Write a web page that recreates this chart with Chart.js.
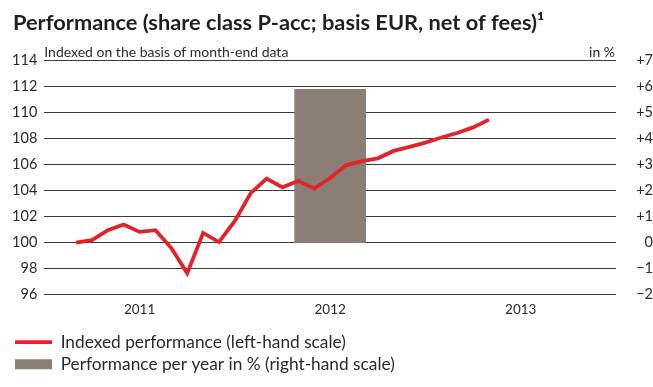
<!DOCTYPE html>
<html>
<head>
<meta charset="utf-8">
<script src="https://cdn.jsdelivr.net/npm/chart.js@4/dist/chart.umd.min.js"></script>
<style>
  html, body { margin: 0; padding: 0; background: #ffffff; }
  #wrap { width: 653px; height: 387px; position: relative; }
</style>
</head>
<body>
<div id="wrap"><canvas id="c" width="653" height="387"></canvas></div>
<script>
// ---- data ----
const titleText = 'Performance (share class P-acc; basis EUR, net of fees)\u00B9';
const subtitleText = 'Indexed on the basis of month-end data';
const rightUnitText = 'in %';

const months = [
  'Feb 2011','Mar 2011','Apr 2011','May 2011','Jun 2011','Jul 2011','Aug 2011','Sep 2011','Oct 2011','Nov 2011','Dec 2011',
  'Jan 2012','Feb 2012','Mar 2012','Apr 2012','May 2012','Jun 2012','Jul 2012','Aug 2012','Sep 2012','Oct 2012','Nov 2012','Dec 2012',
  'Jan 2013','Feb 2013','Mar 2013','Apr 2013'
];
const indexedPerformance = [
  100.0, 100.19, 100.96, 101.40, 100.83, 100.96, 99.59, 97.64, 100.75, 100.05, 101.67,
  103.81, 104.93, 104.26, 104.76, 104.16, 104.98, 105.95, 106.28, 106.49, 107.06, 107.37,
  107.70, 108.09, 108.44, 108.87, 109.47
];

const years = ['2011', '2012', '2013'];
const yearMidMonths = ['Jun 2011', 'Jun 2012', 'Jun 2013'];
const axisStartMonth = 'Dec 2010';
const axisEndMonth = 'Dec 2013';

const perfYears = ['2012'];
const perfPerYear = [5.9];

const leftTicks = { min: 96, max: 114, step: 2 };
const rightTicks = { min: -2, max: 7, step: 1 };

// ---- helpers ----
const MON = ['Jan','Feb','Mar','Apr','May','Jun','Jul','Aug','Sep','Oct','Nov','Dec'];
function monthIdx(label) {
  const [m, y] = label.split(' ');
  const base = months[0].split(' ');
  return (parseInt(y) - parseInt(base[1])) * 12 + MON.indexOf(m) - MON.indexOf(base[0]);
}
const lineData = indexedPerformance.map((v, i) => ({ x: monthIdx(months[i]), y: v }));
const yearTickValues = yearMidMonths.map(monthIdx);
const barData = perfYears.map((yr, i) => ({ x: yearTickValues[years.indexOf(yr)], y: perfPerYear[i] }));

const TXT = '#2b2b2b';
const TICK_FONT = 'Lato';

const headerPlugin = {
  id: 'header',
  afterDraw(chart) {
    const ctx = chart.ctx;
    const a = chart.chartArea;
    ctx.save();
    ctx.fillStyle = '#1f1f1f';
    ctx.textBaseline = 'alphabetic';
    ctx.textAlign = 'left';
    ctx.font = 'bold 21.8px Lato';
    ctx.fillText(titleText, 13, 30);
    ctx.fillStyle = TXT;
    ctx.font = '14px Lato';
    ctx.fillText(subtitleText, a.left, 57);
    ctx.textAlign = 'right';
    ctx.fillText(rightUnitText, a.right - 1, 57);
    ctx.restore();
  }
};

new Chart(document.getElementById('c'), {
  type: 'line',
  data: {
    datasets: [
      {
        type: 'line',
        label: 'Indexed performance (left-hand scale)',
        data: lineData,
        yAxisID: 'y',
        borderColor: '#e3232c',
        backgroundColor: '#e3232c',
        borderWidth: 3.8,
        pointRadius: 0,
        pointStyle: 'line',
        tension: 0,
        order: 0
      },
      {
        type: 'bar',
        label: 'Performance per year in % (right-hand scale)',
        data: barData,
        yAxisID: 'y2',
        backgroundColor: '#8b7f75',
        borderWidth: 0,
        barThickness: 71,
        pointStyle: 'rect',
        order: 1
      }
    ]
  },
  options: {
    responsive: false,
    animation: false,
    layout: { padding: { left: 10, right: 0, top: 60.7, bottom: 4 } },
    plugins: {
      title: { display: false },
      tooltip: { enabled: false },
      legend: {
        display: true,
        position: 'bottom',
        align: 'start',
        maxHeight: 61,
        labels: {
          usePointStyle: true,
          pointStyleWidth: 37,
          boxHeight: 10,
          padding: 5,
          color: TXT,
          font: { family: 'Lato', size: 17.3 }
        }
      }
    },
    scales: {
      x: {
        type: 'linear',
        min: monthIdx(axisStartMonth),
        max: monthIdx(axisEndMonth),
        offset: false,
        grid: { display: false, drawTicks: false },
        border: { display: false },
        afterBuildTicks: (scale) => { scale.ticks = yearTickValues.map(v => ({ value: v })); },
        afterFit: (scale) => { scale.height = 33.7; },
        ticks: {
          autoSkip: false,
          maxRotation: 0,
          padding: 7,
          color: TXT,
          font: { family: TICK_FONT, size: 13.5 },
          callback: (v) => years[yearTickValues.indexOf(v)]
        }
      },
      y: {
        position: 'left',
        min: leftTicks.min,
        max: leftTicks.max,
        grid: { color: '#3a3a3a', lineWidth: 1, drawTicks: false },
        border: { display: false },
        afterFit: (scale) => { scale.width = 34.3; },
        ticks: {
          stepSize: leftTicks.step,
          padding: 7,
          color: TXT,
          font: { family: TICK_FONT, size: 14.5 }
        }
      },
      y2: {
        position: 'right',
        min: rightTicks.min,
        max: rightTicks.max,
        grid: { display: false, drawTicks: false },
        border: { display: false },
        afterFit: (scale) => { scale.width = 37; },
        ticks: {
          stepSize: rightTicks.step,
          padding: 7,
          crossAlign: 'far',
          color: TXT,
          font: { family: TICK_FONT, size: 14.5 },
          callback: (v) => v > 0 ? '+' + v : (v < 0 ? '\u2212' + Math.abs(v) : '0')
        }
      }
    }
  },
  plugins: [headerPlugin]
});
</script>
</body>
</html>
